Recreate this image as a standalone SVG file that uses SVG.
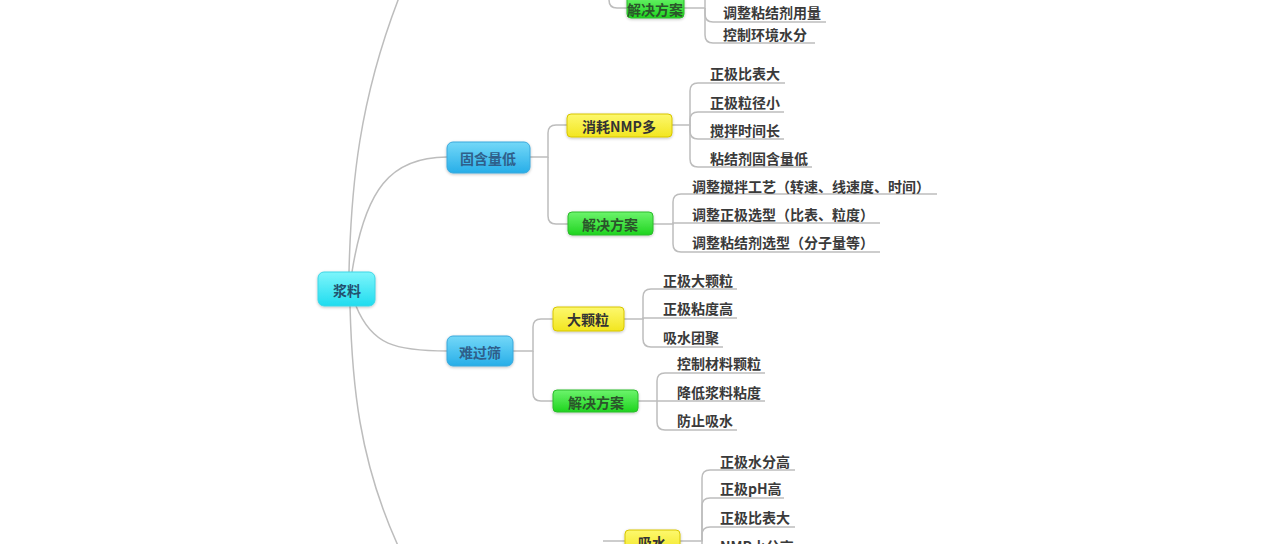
<svg xmlns="http://www.w3.org/2000/svg" width="1280" height="544" viewBox="0 0 1280 544">
<defs>
<linearGradient id="gCyan" x1="0" y1="0" x2="0" y2="1"><stop offset="0" stop-color="#7ef5fb"/><stop offset="1" stop-color="#1fdcef"/></linearGradient>
<linearGradient id="gBlue" x1="0" y1="0" x2="0" y2="1"><stop offset="0" stop-color="#74d8f8"/><stop offset="1" stop-color="#27aee8"/></linearGradient>
<linearGradient id="gYellow" x1="0" y1="0" x2="0" y2="1"><stop offset="0" stop-color="#fdf86e"/><stop offset="1" stop-color="#f2e620"/></linearGradient>
<linearGradient id="gGreen" x1="0" y1="0" x2="0" y2="1"><stop offset="0" stop-color="#6cf46c"/><stop offset="1" stop-color="#1fd41f"/></linearGradient>
<filter id="glow" x="-20%" y="-30%" width="140%" height="160%"><feGaussianBlur in="SourceAlpha" stdDeviation="1.5"/><feOffset dx="0" dy="1"/><feComponentTransfer><feFuncA type="linear" slope="0.25"/></feComponentTransfer><feMerge><feMergeNode/><feMergeNode in="SourceGraphic"/></feMerge></filter>
</defs>
<style>
text{font-family:"Noto Sans CJK SC","Noto Sans",sans-serif;font-size:14px;font-weight:bold;dominant-baseline:central}
.leaf{fill:#3a3a3a}
.mid{text-anchor:middle}
.conn path{fill:none;stroke:#bdbdbd;stroke-width:1.5}
.cyan{fill:url(#gCyan);stroke:#3fd6e6;stroke-width:1}
.blue{fill:url(#gBlue);stroke:#3aa8dc;stroke-width:1}
.yellow{fill:url(#gYellow);stroke:#d8c600;stroke-width:1}
.green{fill:url(#gGreen);stroke:#2cbc2c;stroke-width:1}
.tCyan{fill:#23506e}
.tBlue{fill:#2f5f8a}
.tYellow{fill:#333}
.tGreen{fill:#2b552b}
</style>
<rect width="1280" height="544" fill="#ffffff"/>
<g id="connectors" class="conn">
<!-- trunk curves from 浆料 -->
<path d="M349,272 C351,190 358,100 402,-10"/>
<path d="M350,306 C352,380 358,460 400,550"/>
<path d="M352,272 C365,190 390,157 447,157"/>
<path d="M356,306 C372,345 395,351 448,351"/>
<!-- top partial -->
<path d="M609,-15 V0 Q609,8 617,8 H627"/>
<path d="M684,8 H705 V-12"/>
<path d="M705,8 V14 Q705,22 713,22 H826"/>
<path d="M705,8 V35 Q705,43 713,43 H815"/>
<!-- 固含量低 -->
<path d="M530,157 H548 V133 Q548,125 556,125 H567"/>
<path d="M548,157 V216 Q548,224 556,224 H568"/>
<!-- 消耗NMP多 -->
<path d="M672,125 H690 V91 Q690,83 698,83 H785"/>
<path d="M690,125 V120 Q690,112 698,112 H784"/>
<path d="M690,125 V131 Q690,139 698,139 H784"/>
<path d="M690,125 V159 Q690,167 698,167 H812"/>
<!-- 解决方案 (固含量低) -->
<path d="M653,224 H673 V202 Q673,194 681,194 H937"/>
<path d="M673,224 V223 H880"/>
<path d="M673,224 V244 Q673,252 681,252 H880"/>
<!-- 难过筛 -->
<path d="M513,351 H533 V327 Q533,319 541,319 H553"/>
<path d="M533,351 V393 Q533,401 541,401 H553"/>
<!-- 大颗粒 -->
<path d="M624,319 H643 V297 Q643,289 651,289 H737"/>
<path d="M643,319 V318 H737"/>
<path d="M643,319 V339 Q643,347 651,347 H723"/>
<!-- 解决方案 (难过筛) -->
<path d="M638,401 H657 V381 Q657,373 665,373 H765"/>
<path d="M657,401 H765"/>
<path d="M657,401 V422 Q657,430 665,430 H737"/>
<!-- 吸水 -->
<path d="M603,541 H625"/>
<path d="M680,541 H702 V478 Q702,470 710,470 H795"/>
<path d="M702,541 V506 Q702,498 710,498 H784"/>
<path d="M702,541 V535 Q702,527 710,527 H795"/>
<path d="M702,541 V560"/>
</g>
<g id="node-jiangliao"><rect class="cyan" x="318" y="272" width="57" height="34" rx="6" filter="url(#glow)"/><text class="mid tCyan" x="347" y="290">浆料</text></g>
<g id="node-guhanliangdi"><rect class="blue" x="447" y="142" width="83" height="31" rx="6" filter="url(#glow)"/><text class="mid tBlue" x="488" y="158">固含量低</text></g>
<g id="node-nanguoshai"><rect class="blue" x="447" y="336" width="66" height="30" rx="6" filter="url(#glow)"/><text class="mid tBlue" x="480" y="352">难过筛</text></g>
<g id="node-jjfa-top"><rect class="green" x="627" y="-4" width="57" height="22" rx="4" filter="url(#glow)"/><text class="mid tGreen" x="655" y="9">解决方案</text></g>
<g id="node-xiaohao"><rect class="yellow" x="567" y="114" width="105" height="23" rx="4" filter="url(#glow)"/><text class="mid tYellow" x="619" y="126">消耗NMP多</text></g>
<g id="node-jjfa-1"><rect class="green" x="568" y="212" width="85" height="23" rx="4" filter="url(#glow)"/><text class="mid tGreen" x="610" y="224">解决方案</text></g>
<g id="node-dakeli"><rect class="yellow" x="553" y="307" width="71" height="24" rx="4" filter="url(#glow)"/><text class="mid tYellow" x="588" y="319">大颗粒</text></g>
<g id="node-jjfa-2"><rect class="green" x="553" y="390" width="85" height="22" rx="4" filter="url(#glow)"/><text class="mid tGreen" x="596" y="402">解决方案</text></g>
<g id="node-xishui"><rect class="yellow" x="625" y="530" width="55" height="24" rx="4" filter="url(#glow)"/><text class="mid tYellow" x="652" y="542">吸水</text></g>
<g id="leaves" class="leaf">
<text class="leaf" x="723" y="12">调整粘结剂用量</text>
<text class="leaf" x="723" y="34">控制环境水分</text>
<text class="leaf" x="710" y="73">正极比表大</text>
<text class="leaf" x="710" y="102">正极粒径小</text>
<text class="leaf" x="710" y="130">搅拌时间长</text>
<text class="leaf" x="710" y="158">粘结剂固含量低</text>
<text class="leaf" x="692" y="186">调整搅拌工艺（转速、线速度、时间）</text>
<text class="leaf" x="692" y="214">调整正极选型（比表、粒度）</text>
<text class="leaf" x="692" y="242">调整粘结剂选型（分子量等）</text>
<text class="leaf" x="663" y="280">正极大颗粒</text>
<text class="leaf" x="663" y="308">正极粘度高</text>
<text class="leaf" x="663" y="337">吸水团聚</text>
<text class="leaf" x="677" y="363">控制材料颗粒</text>
<text class="leaf" x="677" y="392">降低浆料粘度</text>
<text class="leaf" x="677" y="420">防止吸水</text>
<text class="leaf" x="720" y="461">正极水分高</text>
<text class="leaf" x="720" y="488">正极pH高</text>
<text class="leaf" x="720" y="517">正极比表大</text>
<text class="leaf" x="720" y="546">NMP水分高</text>
</g>
</svg>
